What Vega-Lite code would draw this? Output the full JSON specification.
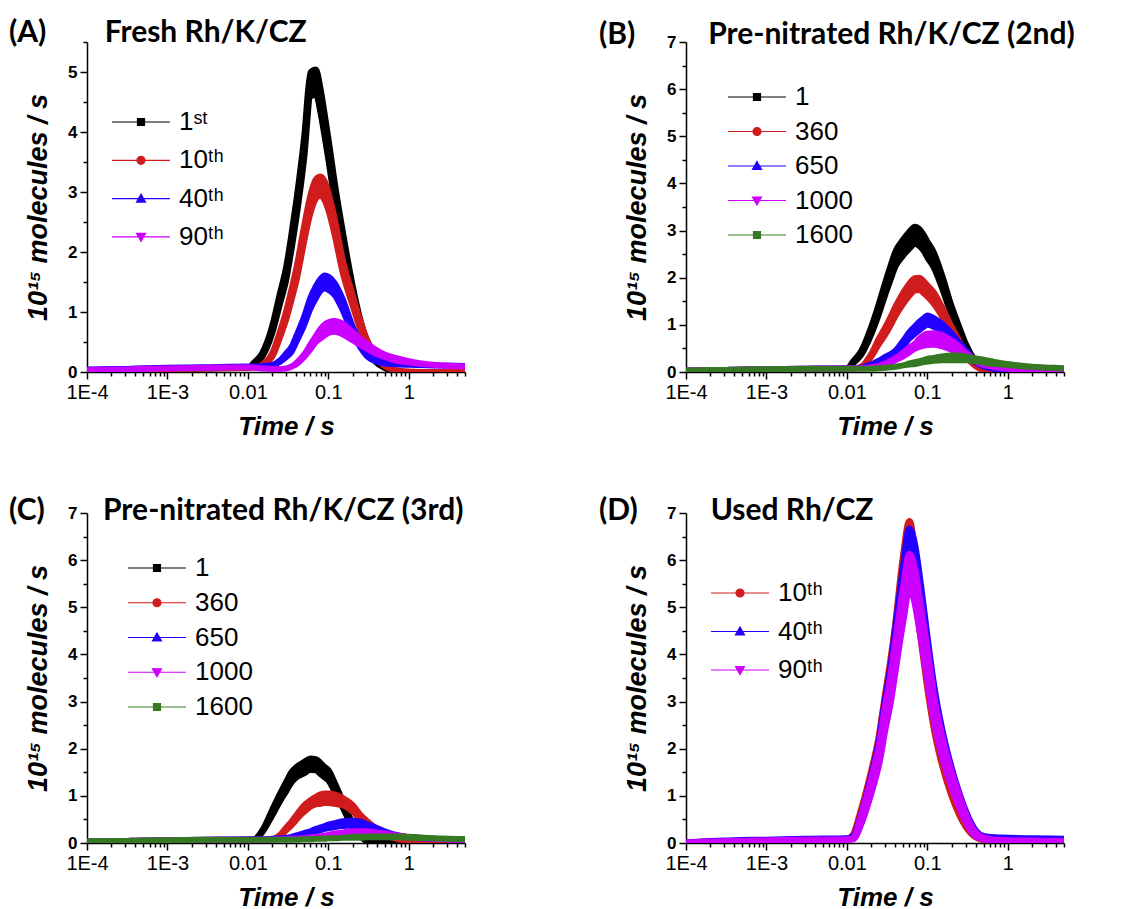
{
"$schema":"https://vega.github.io/schema/vega-lite/v6.json",
"padding":{"left":9,"top":18,"right":0,"bottom":0},
"background":"white",
"columns":2,
"spacing":{"row":141,"column":221},
"bounds":"flush",
"resolve":{"scale":{"fill":"independent","stroke":"independent","shape":"independent"},"legend":{"fill":"independent","stroke":"independent","shape":"independent"}},
"datasets":{
"A":[
{"s":"1st","t":0.0001,"lo":0.03,"hi":0.03},{"s":"1st","t":0.0002,"lo":0.03,"hi":0.03},{"s":"1st","t":0.0003,"lo":0.03,"hi":0.04},{"s":"1st","t":0.0004,"lo":0.04,"hi":0.04},{"s":"1st","t":0.001,"lo":0.05,"hi":0.05},{"s":"1st","t":0.003,"lo":0.06,"hi":0.06},{"s":"1st","t":0.01,"lo":0.07,"hi":0.07},{"s":"1st","t":0.012,"lo":0.14,"hi":0.16},{"s":"1st","t":0.015,"lo":0.25,"hi":0.31},{"s":"1st","t":0.02,"lo":0.64,"hi":0.76},{"s":"1st","t":0.025,"lo":1.13,"hi":1.31},{"s":"1st","t":0.03,"lo":1.54,"hi":1.76},{"s":"1st","t":0.035,"lo":2.06,"hi":2.32},{"s":"1st","t":0.04,"lo":2.56,"hi":2.86},{"s":"1st","t":0.05,"lo":3.55,"hi":3.91},{"s":"1st","t":0.06,"lo":4.59,"hi":4.99},{"s":"1st","t":0.07,"lo":4.62,"hi":5.04},{"s":"1st","t":0.08,"lo":4.32,"hi":4.72},{"s":"1st","t":0.09,"lo":3.92,"hi":4.3},{"s":"1st","t":0.1,"lo":3.54,"hi":3.9},{"s":"1st","t":0.12,"lo":2.84,"hi":3.16},{"s":"1st","t":0.15,"lo":2.11,"hi":2.37},{"s":"1st","t":0.2,"lo":1.25,"hi":1.45},{"s":"1st","t":0.25,"lo":0.73,"hi":0.87},{"s":"1st","t":0.3,"lo":0.42,"hi":0.52},{"s":"1st","t":0.4,"lo":0.15,"hi":0.17},{"s":"1st","t":0.5,"lo":0.07,"hi":0.07},{"s":"1st","t":0.7,"lo":0.01,"hi":0.01},{"s":"1st","t":1,"lo":0,"hi":0},{"s":"1st","t":2,"lo":0,"hi":0},{"s":"1st","t":5,"lo":0,"hi":0},
{"s":"10th","t":0.0001,"lo":0.03,"hi":0.03},{"s":"10th","t":0.0002,"lo":0.03,"hi":0.03},{"s":"10th","t":0.0003,"lo":0.03,"hi":0.04},{"s":"10th","t":0.0004,"lo":0.04,"hi":0.04},{"s":"10th","t":0.001,"lo":0.05,"hi":0.05},{"s":"10th","t":0.003,"lo":0.06,"hi":0.06},{"s":"10th","t":0.01,"lo":0.07,"hi":0.07},{"s":"10th","t":0.012,"lo":0.08,"hi":0.08},{"s":"10th","t":0.015,"lo":0.12,"hi":0.12},{"s":"10th","t":0.02,"lo":0.25,"hi":0.31},{"s":"10th","t":0.025,"lo":0.57,"hi":0.67},{"s":"10th","t":0.03,"lo":0.88,"hi":1.02},{"s":"10th","t":0.035,"lo":1.21,"hi":1.39},{"s":"10th","t":0.04,"lo":1.51,"hi":1.73},{"s":"10th","t":0.05,"lo":2.17,"hi":2.43},{"s":"10th","t":0.06,"lo":2.65,"hi":2.95},{"s":"10th","t":0.07,"lo":2.89,"hi":3.21},{"s":"10th","t":0.08,"lo":2.94,"hi":3.26},{"s":"10th","t":0.09,"lo":2.86,"hi":3.18},{"s":"10th","t":0.1,"lo":2.7,"hi":3.0},{"s":"10th","t":0.12,"lo":2.28,"hi":2.56},{"s":"10th","t":0.15,"lo":1.67,"hi":1.89},{"s":"10th","t":0.2,"lo":1.11,"hi":1.29},{"s":"10th","t":0.25,"lo":0.71,"hi":0.85},{"s":"10th","t":0.3,"lo":0.45,"hi":0.55},{"s":"10th","t":0.4,"lo":0.2,"hi":0.24},{"s":"10th","t":0.5,"lo":0.1,"hi":0.1},{"s":"10th","t":0.7,"lo":0.03,"hi":0.03},{"s":"10th","t":1,"lo":0.01,"hi":0.01},{"s":"10th","t":2,"lo":0,"hi":0},{"s":"10th","t":5,"lo":0,"hi":0},
{"s":"40th","t":0.0001,"lo":0.04,"hi":0.04},{"s":"40th","t":0.0002,"lo":0.05,"hi":0.05},{"s":"40th","t":0.0003,"lo":0.05,"hi":0.05},{"s":"40th","t":0.0004,"lo":0.06,"hi":0.06},{"s":"40th","t":0.001,"lo":0.07,"hi":0.07},{"s":"40th","t":0.003,"lo":0.08,"hi":0.08},{"s":"40th","t":0.01,"lo":0.09,"hi":0.09},{"s":"40th","t":0.012,"lo":0.09,"hi":0.09},{"s":"40th","t":0.015,"lo":0.1,"hi":0.1},{"s":"40th","t":0.02,"lo":0.12,"hi":0.12},{"s":"40th","t":0.025,"lo":0.17,"hi":0.19},{"s":"40th","t":0.03,"lo":0.25,"hi":0.31},{"s":"40th","t":0.035,"lo":0.34,"hi":0.42},{"s":"40th","t":0.04,"lo":0.5,"hi":0.6},{"s":"40th","t":0.05,"lo":0.78,"hi":0.92},{"s":"40th","t":0.06,"lo":1.06,"hi":1.24},{"s":"40th","t":0.07,"lo":1.23,"hi":1.43},{"s":"40th","t":0.08,"lo":1.35,"hi":1.55},{"s":"40th","t":0.09,"lo":1.39,"hi":1.61},{"s":"40th","t":0.1,"lo":1.37,"hi":1.59},{"s":"40th","t":0.12,"lo":1.28,"hi":1.48},{"s":"40th","t":0.15,"lo":1.04,"hi":1.22},{"s":"40th","t":0.2,"lo":0.64,"hi":0.76},{"s":"40th","t":0.25,"lo":0.41,"hi":0.49},{"s":"40th","t":0.3,"lo":0.27,"hi":0.33},{"s":"40th","t":0.4,"lo":0.17,"hi":0.21},{"s":"40th","t":0.5,"lo":0.14,"hi":0.16},{"s":"40th","t":0.7,"lo":0.13,"hi":0.13},{"s":"40th","t":1,"lo":0.12,"hi":0.12},{"s":"40th","t":2,"lo":0.11,"hi":0.11},{"s":"40th","t":5,"lo":0.1,"hi":0.1},
{"s":"90th","t":0.0001,"lo":0.03,"hi":0.03},{"s":"90th","t":0.0002,"lo":0.04,"hi":0.04},{"s":"90th","t":0.0003,"lo":0.04,"hi":0.04},{"s":"90th","t":0.0004,"lo":0.05,"hi":0.05},{"s":"90th","t":0.001,"lo":0.06,"hi":0.06},{"s":"90th","t":0.003,"lo":0.07,"hi":0.07},{"s":"90th","t":0.01,"lo":0.08,"hi":0.08},{"s":"90th","t":0.012,"lo":0.07,"hi":0.07},{"s":"90th","t":0.015,"lo":0.06,"hi":0.06},{"s":"90th","t":0.02,"lo":0.05,"hi":0.05},{"s":"90th","t":0.025,"lo":0.05,"hi":0.05},{"s":"90th","t":0.03,"lo":0.06,"hi":0.06},{"s":"90th","t":0.035,"lo":0.09,"hi":0.09},{"s":"90th","t":0.04,"lo":0.13,"hi":0.15},{"s":"90th","t":0.05,"lo":0.25,"hi":0.29},{"s":"90th","t":0.06,"lo":0.38,"hi":0.46},{"s":"90th","t":0.07,"lo":0.5,"hi":0.6},{"s":"90th","t":0.08,"lo":0.56,"hi":0.72},{"s":"90th","t":0.09,"lo":0.61,"hi":0.79},{"s":"90th","t":0.1,"lo":0.65,"hi":0.83},{"s":"90th","t":0.12,"lo":0.67,"hi":0.85},{"s":"90th","t":0.15,"lo":0.63,"hi":0.81},{"s":"90th","t":0.2,"lo":0.53,"hi":0.67},{"s":"90th","t":0.25,"lo":0.45,"hi":0.55},{"s":"90th","t":0.3,"lo":0.39,"hi":0.47},{"s":"90th","t":0.4,"lo":0.3,"hi":0.36},{"s":"90th","t":0.5,"lo":0.25,"hi":0.29},{"s":"90th","t":0.7,"lo":0.19,"hi":0.23},{"s":"90th","t":1,"lo":0.16,"hi":0.18},{"s":"90th","t":2,"lo":0.12,"hi":0.12},{"s":"90th","t":5,"lo":0.09,"hi":0.09}
],
"B":[
{"s":"1","t":0.0001,"lo":0.02,"hi":0.02},{"s":"1","t":0.0002,"lo":0.03,"hi":0.03},{"s":"1","t":0.0003,"lo":0.03,"hi":0.03},{"s":"1","t":0.0004,"lo":0.04,"hi":0.04},{"s":"1","t":0.001,"lo":0.05,"hi":0.05},{"s":"1","t":0.003,"lo":0.06,"hi":0.06},{"s":"1","t":0.01,"lo":0.07,"hi":0.07},{"s":"1","t":0.012,"lo":0.19,"hi":0.23},{"s":"1","t":0.015,"lo":0.36,"hi":0.44},{"s":"1","t":0.02,"lo":0.79,"hi":0.95},{"s":"1","t":0.025,"lo":1.23,"hi":1.45},{"s":"1","t":0.03,"lo":1.64,"hi":1.9},{"s":"1","t":0.035,"lo":1.96,"hi":2.26},{"s":"1","t":0.04,"lo":2.23,"hi":2.55},{"s":"1","t":0.05,"lo":2.47,"hi":2.81},{"s":"1","t":0.06,"lo":2.62,"hi":2.98},{"s":"1","t":0.07,"lo":2.72,"hi":3.08},{"s":"1","t":0.08,"lo":2.67,"hi":3.03},{"s":"1","t":0.09,"lo":2.57,"hi":2.91},{"s":"1","t":0.1,"lo":2.43,"hi":2.77},{"s":"1","t":0.12,"lo":2.22,"hi":2.54},{"s":"1","t":0.15,"lo":1.81,"hi":2.09},{"s":"1","t":0.2,"lo":1.2,"hi":1.4},{"s":"1","t":0.25,"lo":0.79,"hi":0.95},{"s":"1","t":0.3,"lo":0.5,"hi":0.6},{"s":"1","t":0.4,"lo":0.18,"hi":0.22},{"s":"1","t":0.5,"lo":0.03,"hi":0.03},{"s":"1","t":0.7,"lo":0,"hi":0},{"s":"1","t":1,"lo":0,"hi":0},{"s":"1","t":2,"lo":0,"hi":0},{"s":"1","t":5,"lo":0,"hi":0},
{"s":"360","t":0.0001,"lo":0.02,"hi":0.02},{"s":"360","t":0.0002,"lo":0.03,"hi":0.03},{"s":"360","t":0.0003,"lo":0.03,"hi":0.03},{"s":"360","t":0.0004,"lo":0.04,"hi":0.04},{"s":"360","t":0.001,"lo":0.05,"hi":0.05},{"s":"360","t":0.003,"lo":0.06,"hi":0.06},{"s":"360","t":0.01,"lo":0.07,"hi":0.07},{"s":"360","t":0.012,"lo":0.07,"hi":0.07},{"s":"360","t":0.015,"lo":0.11,"hi":0.11},{"s":"360","t":0.02,"lo":0.32,"hi":0.38},{"s":"360","t":0.025,"lo":0.59,"hi":0.71},{"s":"360","t":0.03,"lo":0.79,"hi":0.95},{"s":"360","t":0.035,"lo":0.99,"hi":1.17},{"s":"360","t":0.04,"lo":1.18,"hi":1.38},{"s":"360","t":0.05,"lo":1.44,"hi":1.68},{"s":"360","t":0.06,"lo":1.62,"hi":1.88},{"s":"360","t":0.07,"lo":1.73,"hi":1.99},{"s":"360","t":0.08,"lo":1.74,"hi":2.0},{"s":"360","t":0.09,"lo":1.67,"hi":1.93},{"s":"360","t":0.1,"lo":1.6,"hi":1.84},{"s":"360","t":0.12,"lo":1.45,"hi":1.69},{"s":"360","t":0.15,"lo":1.2,"hi":1.4},{"s":"360","t":0.2,"lo":0.8,"hi":0.96},{"s":"360","t":0.25,"lo":0.54,"hi":0.66},{"s":"360","t":0.3,"lo":0.34,"hi":0.42},{"s":"360","t":0.4,"lo":0.12,"hi":0.14},{"s":"360","t":0.5,"lo":0.04,"hi":0.04},{"s":"360","t":0.7,"lo":0.01,"hi":0.01},{"s":"360","t":1,"lo":0,"hi":0},{"s":"360","t":2,"lo":0,"hi":0},{"s":"360","t":5,"lo":0,"hi":0},
{"s":"650","t":0.0001,"lo":0.03,"hi":0.03},{"s":"650","t":0.0002,"lo":0.04,"hi":0.04},{"s":"650","t":0.0003,"lo":0.04,"hi":0.04},{"s":"650","t":0.0004,"lo":0.05,"hi":0.05},{"s":"650","t":0.001,"lo":0.06,"hi":0.06},{"s":"650","t":0.003,"lo":0.07,"hi":0.07},{"s":"650","t":0.01,"lo":0.08,"hi":0.08},{"s":"650","t":0.012,"lo":0.08,"hi":0.08},{"s":"650","t":0.015,"lo":0.09,"hi":0.09},{"s":"650","t":0.02,"lo":0.14,"hi":0.16},{"s":"650","t":0.025,"lo":0.2,"hi":0.24},{"s":"650","t":0.03,"lo":0.26,"hi":0.32},{"s":"650","t":0.035,"lo":0.32,"hi":0.38},{"s":"650","t":0.04,"lo":0.37,"hi":0.45},{"s":"650","t":0.05,"lo":0.54,"hi":0.66},{"s":"650","t":0.06,"lo":0.71,"hi":0.85},{"s":"650","t":0.07,"lo":0.81,"hi":0.97},{"s":"650","t":0.08,"lo":0.89,"hi":1.07},{"s":"650","t":0.09,"lo":0.96,"hi":1.14},{"s":"650","t":0.1,"lo":1.0,"hi":1.2},{"s":"650","t":0.12,"lo":0.96,"hi":1.14},{"s":"650","t":0.15,"lo":0.87,"hi":1.03},{"s":"650","t":0.2,"lo":0.68,"hi":0.82},{"s":"650","t":0.25,"lo":0.52,"hi":0.62},{"s":"650","t":0.3,"lo":0.39,"hi":0.47},{"s":"650","t":0.4,"lo":0.2,"hi":0.24},{"s":"650","t":0.5,"lo":0.12,"hi":0.14},{"s":"650","t":0.7,"lo":0.07,"hi":0.07},{"s":"650","t":1,"lo":0.05,"hi":0.05},{"s":"650","t":2,"lo":0.04,"hi":0.04},{"s":"650","t":5,"lo":0.03,"hi":0.03},
{"s":"1000","t":0.0001,"lo":0.03,"hi":0.03},{"s":"1000","t":0.0002,"lo":0.04,"hi":0.04},{"s":"1000","t":0.0003,"lo":0.04,"hi":0.04},{"s":"1000","t":0.0004,"lo":0.05,"hi":0.05},{"s":"1000","t":0.001,"lo":0.06,"hi":0.06},{"s":"1000","t":0.003,"lo":0.07,"hi":0.07},{"s":"1000","t":0.01,"lo":0.08,"hi":0.08},{"s":"1000","t":0.012,"lo":0.08,"hi":0.08},{"s":"1000","t":0.015,"lo":0.08,"hi":0.08},{"s":"1000","t":0.02,"lo":0.1,"hi":0.1},{"s":"1000","t":0.025,"lo":0.13,"hi":0.13},{"s":"1000","t":0.03,"lo":0.16,"hi":0.18},{"s":"1000","t":0.035,"lo":0.2,"hi":0.24},{"s":"1000","t":0.04,"lo":0.25,"hi":0.29},{"s":"1000","t":0.05,"lo":0.33,"hi":0.41},{"s":"1000","t":0.06,"lo":0.42,"hi":0.52},{"s":"1000","t":0.07,"lo":0.5,"hi":0.6},{"s":"1000","t":0.08,"lo":0.53,"hi":0.71},{"s":"1000","t":0.09,"lo":0.56,"hi":0.78},{"s":"1000","t":0.1,"lo":0.57,"hi":0.81},{"s":"1000","t":0.12,"lo":0.58,"hi":0.82},{"s":"1000","t":0.15,"lo":0.55,"hi":0.79},{"s":"1000","t":0.2,"lo":0.47,"hi":0.67},{"s":"1000","t":0.25,"lo":0.38,"hi":0.54},{"s":"1000","t":0.3,"lo":0.33,"hi":0.41},{"s":"1000","t":0.4,"lo":0.22,"hi":0.26},{"s":"1000","t":0.5,"lo":0.15,"hi":0.17},{"s":"1000","t":0.7,"lo":0.1,"hi":0.1},{"s":"1000","t":1,"lo":0.07,"hi":0.07},{"s":"1000","t":2,"lo":0.05,"hi":0.05},{"s":"1000","t":5,"lo":0.04,"hi":0.04},
{"s":"1600","t":0.0001,"lo":0.03,"hi":0.03},{"s":"1600","t":0.0002,"lo":0.04,"hi":0.04},{"s":"1600","t":0.0003,"lo":0.04,"hi":0.04},{"s":"1600","t":0.0004,"lo":0.05,"hi":0.05},{"s":"1600","t":0.001,"lo":0.06,"hi":0.06},{"s":"1600","t":0.003,"lo":0.07,"hi":0.07},{"s":"1600","t":0.01,"lo":0.07,"hi":0.07},{"s":"1600","t":0.012,"lo":0.07,"hi":0.07},{"s":"1600","t":0.015,"lo":0.07,"hi":0.07},{"s":"1600","t":0.02,"lo":0.07,"hi":0.07},{"s":"1600","t":0.025,"lo":0.08,"hi":0.08},{"s":"1600","t":0.03,"lo":0.09,"hi":0.09},{"s":"1600","t":0.035,"lo":0.1,"hi":0.1},{"s":"1600","t":0.04,"lo":0.11,"hi":0.11},{"s":"1600","t":0.05,"lo":0.14,"hi":0.14},{"s":"1600","t":0.06,"lo":0.16,"hi":0.18},{"s":"1600","t":0.07,"lo":0.17,"hi":0.21},{"s":"1600","t":0.08,"lo":0.19,"hi":0.23},{"s":"1600","t":0.09,"lo":0.21,"hi":0.25},{"s":"1600","t":0.1,"lo":0.22,"hi":0.28},{"s":"1600","t":0.12,"lo":0.24,"hi":0.3},{"s":"1600","t":0.15,"lo":0.25,"hi":0.33},{"s":"1600","t":0.2,"lo":0.25,"hi":0.35},{"s":"1600","t":0.25,"lo":0.25,"hi":0.35},{"s":"1600","t":0.3,"lo":0.25,"hi":0.33},{"s":"1600","t":0.4,"lo":0.23,"hi":0.29},{"s":"1600","t":0.5,"lo":0.2,"hi":0.26},{"s":"1600","t":0.7,"lo":0.17,"hi":0.21},{"s":"1600","t":1,"lo":0.15,"hi":0.17},{"s":"1600","t":2,"lo":0.11,"hi":0.11},{"s":"1600","t":5,"lo":0.08,"hi":0.08}
],
"C":[
{"s":"1","t":0.0001,"lo":0.02,"hi":0.02},{"s":"1","t":0.0002,"lo":0.03,"hi":0.03},{"s":"1","t":0.0003,"lo":0.03,"hi":0.03},{"s":"1","t":0.0004,"lo":0.04,"hi":0.04},{"s":"1","t":0.001,"lo":0.05,"hi":0.05},{"s":"1","t":0.003,"lo":0.06,"hi":0.06},{"s":"1","t":0.01,"lo":0.07,"hi":0.07},{"s":"1","t":0.012,"lo":0.08,"hi":0.08},{"s":"1","t":0.015,"lo":0.22,"hi":0.26},{"s":"1","t":0.02,"lo":0.58,"hi":0.7},{"s":"1","t":0.025,"lo":0.88,"hi":1.04},{"s":"1","t":0.03,"lo":1.1,"hi":1.3},{"s":"1","t":0.035,"lo":1.29,"hi":1.51},{"s":"1","t":0.04,"lo":1.39,"hi":1.61},{"s":"1","t":0.05,"lo":1.48,"hi":1.72},{"s":"1","t":0.06,"lo":1.55,"hi":1.79},{"s":"1","t":0.07,"lo":1.54,"hi":1.78},{"s":"1","t":0.08,"lo":1.46,"hi":1.7},{"s":"1","t":0.09,"lo":1.39,"hi":1.61},{"s":"1","t":0.1,"lo":1.33,"hi":1.55},{"s":"1","t":0.12,"lo":1.08,"hi":1.28},{"s":"1","t":0.15,"lo":0.76,"hi":0.9},{"s":"1","t":0.2,"lo":0.34,"hi":0.42},{"s":"1","t":0.25,"lo":0.14,"hi":0.16},{"s":"1","t":0.3,"lo":0.04,"hi":0.04},{"s":"1","t":0.4,"lo":0.01,"hi":0.01},{"s":"1","t":0.5,"lo":0,"hi":0},{"s":"1","t":0.7,"lo":0,"hi":0},{"s":"1","t":1,"lo":0,"hi":0},{"s":"1","t":2,"lo":0,"hi":0},{"s":"1","t":5,"lo":0,"hi":0},
{"s":"360","t":0.0001,"lo":0.02,"hi":0.02},{"s":"360","t":0.0002,"lo":0.03,"hi":0.03},{"s":"360","t":0.0003,"lo":0.03,"hi":0.03},{"s":"360","t":0.0004,"lo":0.04,"hi":0.04},{"s":"360","t":0.001,"lo":0.05,"hi":0.05},{"s":"360","t":0.003,"lo":0.06,"hi":0.06},{"s":"360","t":0.01,"lo":0.07,"hi":0.07},{"s":"360","t":0.012,"lo":0.07,"hi":0.07},{"s":"360","t":0.015,"lo":0.07,"hi":0.07},{"s":"360","t":0.02,"lo":0.08,"hi":0.08},{"s":"360","t":0.025,"lo":0.15,"hi":0.17},{"s":"360","t":0.03,"lo":0.27,"hi":0.33},{"s":"360","t":0.035,"lo":0.38,"hi":0.46},{"s":"360","t":0.04,"lo":0.49,"hi":0.59},{"s":"360","t":0.05,"lo":0.66,"hi":0.8},{"s":"360","t":0.06,"lo":0.77,"hi":0.91},{"s":"360","t":0.07,"lo":0.82,"hi":0.98},{"s":"360","t":0.08,"lo":0.83,"hi":1.03},{"s":"360","t":0.09,"lo":0.85,"hi":1.05},{"s":"360","t":0.1,"lo":0.85,"hi":1.05},{"s":"360","t":0.12,"lo":0.83,"hi":1.03},{"s":"360","t":0.15,"lo":0.8,"hi":0.96},{"s":"360","t":0.2,"lo":0.67,"hi":0.81},{"s":"360","t":0.25,"lo":0.5,"hi":0.6},{"s":"360","t":0.3,"lo":0.39,"hi":0.47},{"s":"360","t":0.4,"lo":0.24,"hi":0.3},{"s":"360","t":0.5,"lo":0.16,"hi":0.18},{"s":"360","t":0.7,"lo":0.09,"hi":0.09},{"s":"360","t":1,"lo":0.05,"hi":0.05},{"s":"360","t":2,"lo":0.03,"hi":0.03},{"s":"360","t":5,"lo":0.02,"hi":0.02},
{"s":"650","t":0.0001,"lo":0.03,"hi":0.03},{"s":"650","t":0.0002,"lo":0.04,"hi":0.04},{"s":"650","t":0.0003,"lo":0.04,"hi":0.04},{"s":"650","t":0.0004,"lo":0.05,"hi":0.05},{"s":"650","t":0.001,"lo":0.06,"hi":0.06},{"s":"650","t":0.003,"lo":0.07,"hi":0.07},{"s":"650","t":0.01,"lo":0.08,"hi":0.08},{"s":"650","t":0.012,"lo":0.08,"hi":0.08},{"s":"650","t":0.015,"lo":0.08,"hi":0.08},{"s":"650","t":0.02,"lo":0.09,"hi":0.09},{"s":"650","t":0.025,"lo":0.1,"hi":0.1},{"s":"650","t":0.03,"lo":0.11,"hi":0.11},{"s":"650","t":0.035,"lo":0.13,"hi":0.13},{"s":"650","t":0.04,"lo":0.14,"hi":0.16},{"s":"650","t":0.05,"lo":0.17,"hi":0.21},{"s":"650","t":0.06,"lo":0.21,"hi":0.25},{"s":"650","t":0.07,"lo":0.24,"hi":0.3},{"s":"650","t":0.08,"lo":0.27,"hi":0.33},{"s":"650","t":0.09,"lo":0.3,"hi":0.36},{"s":"650","t":0.1,"lo":0.31,"hi":0.39},{"s":"650","t":0.12,"lo":0.34,"hi":0.42},{"s":"650","t":0.15,"lo":0.36,"hi":0.46},{"s":"650","t":0.2,"lo":0.37,"hi":0.47},{"s":"650","t":0.25,"lo":0.35,"hi":0.45},{"s":"650","t":0.3,"lo":0.32,"hi":0.4},{"s":"650","t":0.4,"lo":0.26,"hi":0.32},{"s":"650","t":0.5,"lo":0.21,"hi":0.25},{"s":"650","t":0.7,"lo":0.15,"hi":0.17},{"s":"650","t":1,"lo":0.12,"hi":0.12},{"s":"650","t":2,"lo":0.09,"hi":0.09},{"s":"650","t":5,"lo":0.07,"hi":0.07},
{"s":"1000","t":0.0001,"lo":0.03,"hi":0.03},{"s":"1000","t":0.0002,"lo":0.04,"hi":0.04},{"s":"1000","t":0.0003,"lo":0.04,"hi":0.04},{"s":"1000","t":0.0004,"lo":0.05,"hi":0.05},{"s":"1000","t":0.001,"lo":0.06,"hi":0.06},{"s":"1000","t":0.003,"lo":0.07,"hi":0.07},{"s":"1000","t":0.01,"lo":0.07,"hi":0.07},{"s":"1000","t":0.012,"lo":0.07,"hi":0.07},{"s":"1000","t":0.015,"lo":0.07,"hi":0.07},{"s":"1000","t":0.02,"lo":0.07,"hi":0.07},{"s":"1000","t":0.025,"lo":0.08,"hi":0.08},{"s":"1000","t":0.03,"lo":0.08,"hi":0.08},{"s":"1000","t":0.035,"lo":0.09,"hi":0.09},{"s":"1000","t":0.04,"lo":0.09,"hi":0.09},{"s":"1000","t":0.05,"lo":0.1,"hi":0.1},{"s":"1000","t":0.06,"lo":0.12,"hi":0.12},{"s":"1000","t":0.07,"lo":0.13,"hi":0.13},{"s":"1000","t":0.08,"lo":0.14,"hi":0.14},{"s":"1000","t":0.09,"lo":0.14,"hi":0.16},{"s":"1000","t":0.1,"lo":0.15,"hi":0.17},{"s":"1000","t":0.12,"lo":0.16,"hi":0.2},{"s":"1000","t":0.15,"lo":0.18,"hi":0.22},{"s":"1000","t":0.2,"lo":0.19,"hi":0.25},{"s":"1000","t":0.25,"lo":0.19,"hi":0.25},{"s":"1000","t":0.3,"lo":0.19,"hi":0.25},{"s":"1000","t":0.4,"lo":0.18,"hi":0.22},{"s":"1000","t":0.5,"lo":0.16,"hi":0.2},{"s":"1000","t":0.7,"lo":0.14,"hi":0.16},{"s":"1000","t":1,"lo":0.12,"hi":0.12},{"s":"1000","t":2,"lo":0.09,"hi":0.09},{"s":"1000","t":5,"lo":0.07,"hi":0.07},
{"s":"1600","t":0.0001,"lo":0.03,"hi":0.03},{"s":"1600","t":0.0002,"lo":0.04,"hi":0.04},{"s":"1600","t":0.0003,"lo":0.04,"hi":0.04},{"s":"1600","t":0.0004,"lo":0.05,"hi":0.05},{"s":"1600","t":0.001,"lo":0.06,"hi":0.06},{"s":"1600","t":0.003,"lo":0.07,"hi":0.07},{"s":"1600","t":0.01,"lo":0.07,"hi":0.07},{"s":"1600","t":0.012,"lo":0.07,"hi":0.07},{"s":"1600","t":0.015,"lo":0.07,"hi":0.07},{"s":"1600","t":0.02,"lo":0.07,"hi":0.07},{"s":"1600","t":0.025,"lo":0.07,"hi":0.07},{"s":"1600","t":0.03,"lo":0.07,"hi":0.07},{"s":"1600","t":0.035,"lo":0.07,"hi":0.07},{"s":"1600","t":0.04,"lo":0.07,"hi":0.07},{"s":"1600","t":0.05,"lo":0.08,"hi":0.08},{"s":"1600","t":0.06,"lo":0.08,"hi":0.08},{"s":"1600","t":0.07,"lo":0.09,"hi":0.09},{"s":"1600","t":0.08,"lo":0.09,"hi":0.09},{"s":"1600","t":0.09,"lo":0.09,"hi":0.09},{"s":"1600","t":0.1,"lo":0.1,"hi":0.1},{"s":"1600","t":0.12,"lo":0.1,"hi":0.1},{"s":"1600","t":0.15,"lo":0.11,"hi":0.11},{"s":"1600","t":0.2,"lo":0.11,"hi":0.13},{"s":"1600","t":0.25,"lo":0.11,"hi":0.13},{"s":"1600","t":0.3,"lo":0.12,"hi":0.14},{"s":"1600","t":0.4,"lo":0.12,"hi":0.14},{"s":"1600","t":0.5,"lo":0.12,"hi":0.14},{"s":"1600","t":0.7,"lo":0.12,"hi":0.14},{"s":"1600","t":1,"lo":0.11,"hi":0.13},{"s":"1600","t":2,"lo":0.1,"hi":0.1},{"s":"1600","t":5,"lo":0.08,"hi":0.08}
],
"D":[
{"s":"10th","t":0.0001,"lo":0,"hi":0},{"s":"10th","t":0.0002,"lo":0.02,"hi":0.02},{"s":"10th","t":0.0003,"lo":0.03,"hi":0.03},{"s":"10th","t":0.0004,"lo":0.03,"hi":0.03},{"s":"10th","t":0.001,"lo":0.05,"hi":0.05},{"s":"10th","t":0.003,"lo":0.06,"hi":0.06},{"s":"10th","t":0.01,"lo":0.07,"hi":0.07},{"s":"10th","t":0.012,"lo":0.13,"hi":0.17},{"s":"10th","t":0.015,"lo":0.52,"hi":0.68},{"s":"10th","t":0.02,"lo":1.21,"hi":1.49},{"s":"10th","t":0.025,"lo":1.87,"hi":2.23},{"s":"10th","t":0.03,"lo":2.67,"hi":3.13},{"s":"10th","t":0.035,"lo":3.34,"hi":3.86},{"s":"10th","t":0.04,"lo":4.01,"hi":4.59},{"s":"10th","t":0.05,"lo":5.36,"hi":6.04},{"s":"10th","t":0.06,"lo":6.08,"hi":6.82},{"s":"10th","t":0.07,"lo":5.41,"hi":6.09},{"s":"10th","t":0.08,"lo":4.58,"hi":5.22},{"s":"10th","t":0.09,"lo":3.91,"hi":4.49},{"s":"10th","t":0.1,"lo":3.34,"hi":3.86},{"s":"10th","t":0.12,"lo":2.48,"hi":2.92},{"s":"10th","t":0.15,"lo":1.73,"hi":2.07},{"s":"10th","t":0.2,"lo":1.02,"hi":1.28},{"s":"10th","t":0.25,"lo":0.61,"hi":0.79},{"s":"10th","t":0.3,"lo":0.36,"hi":0.48},{"s":"10th","t":0.4,"lo":0.13,"hi":0.17},{"s":"10th","t":0.5,"lo":0.07,"hi":0.07},{"s":"10th","t":0.7,"lo":0.04,"hi":0.04},{"s":"10th","t":1,"lo":0.03,"hi":0.03},{"s":"10th","t":2,"lo":0.02,"hi":0.02},{"s":"10th","t":5,"lo":0.02,"hi":0.02},
{"s":"40th","t":0.0001,"lo":0,"hi":0},{"s":"40th","t":0.0002,"lo":0.03,"hi":0.03},{"s":"40th","t":0.0003,"lo":0.04,"hi":0.04},{"s":"40th","t":0.0004,"lo":0.05,"hi":0.05},{"s":"40th","t":0.001,"lo":0.06,"hi":0.06},{"s":"40th","t":0.003,"lo":0.08,"hi":0.08},{"s":"40th","t":0.01,"lo":0.09,"hi":0.09},{"s":"40th","t":0.012,"lo":0.11,"hi":0.13},{"s":"40th","t":0.015,"lo":0.43,"hi":0.57},{"s":"40th","t":0.02,"lo":1.12,"hi":1.38},{"s":"40th","t":0.025,"lo":1.77,"hi":2.13},{"s":"40th","t":0.03,"lo":2.58,"hi":3.02},{"s":"40th","t":0.035,"lo":3.2,"hi":3.7},{"s":"40th","t":0.04,"lo":3.91,"hi":4.49},{"s":"40th","t":0.05,"lo":5.12,"hi":5.78},{"s":"40th","t":0.06,"lo":5.94,"hi":6.66},{"s":"40th","t":0.07,"lo":5.6,"hi":6.3},{"s":"40th","t":0.08,"lo":4.97,"hi":5.63},{"s":"40th","t":0.09,"lo":4.35,"hi":4.95},{"s":"40th","t":0.1,"lo":3.77,"hi":4.33},{"s":"40th","t":0.12,"lo":2.86,"hi":3.34},{"s":"40th","t":0.15,"lo":2.06,"hi":2.44},{"s":"40th","t":0.2,"lo":1.27,"hi":1.57},{"s":"40th","t":0.25,"lo":0.81,"hi":1.03},{"s":"40th","t":0.3,"lo":0.5,"hi":0.66},{"s":"40th","t":0.4,"lo":0.19,"hi":0.25},{"s":"40th","t":0.5,"lo":0.12,"hi":0.14},{"s":"40th","t":0.7,"lo":0.11,"hi":0.11},{"s":"40th","t":1,"lo":0.1,"hi":0.1},{"s":"40th","t":2,"lo":0.09,"hi":0.09},{"s":"40th","t":5,"lo":0.08,"hi":0.08},
{"s":"90th","t":0.0001,"lo":0,"hi":0},{"s":"90th","t":0.0002,"lo":0.02,"hi":0.02},{"s":"90th","t":0.0003,"lo":0.03,"hi":0.03},{"s":"90th","t":0.0004,"lo":0.03,"hi":0.03},{"s":"90th","t":0.001,"lo":0.05,"hi":0.05},{"s":"90th","t":0.003,"lo":0.06,"hi":0.06},{"s":"90th","t":0.01,"lo":0.07,"hi":0.07},{"s":"90th","t":0.012,"lo":0.09,"hi":0.09},{"s":"90th","t":0.015,"lo":0.42,"hi":0.56},{"s":"90th","t":0.02,"lo":1.07,"hi":1.33},{"s":"90th","t":0.025,"lo":1.69,"hi":2.03},{"s":"90th","t":0.03,"lo":2.44,"hi":2.88},{"s":"90th","t":0.035,"lo":3.02,"hi":3.52},{"s":"90th","t":0.04,"lo":3.67,"hi":4.23},{"s":"90th","t":0.05,"lo":4.73,"hi":5.37},{"s":"90th","t":0.06,"lo":5.42,"hi":6.12},{"s":"90th","t":0.07,"lo":5.11,"hi":5.79},{"s":"90th","t":0.08,"lo":4.54,"hi":5.16},{"s":"90th","t":0.09,"lo":4.01,"hi":4.59},{"s":"90th","t":0.1,"lo":3.53,"hi":4.07},{"s":"90th","t":0.12,"lo":2.65,"hi":3.11},{"s":"90th","t":0.15,"lo":1.91,"hi":2.29},{"s":"90th","t":0.2,"lo":1.21,"hi":1.49},{"s":"90th","t":0.25,"lo":0.77,"hi":0.99},{"s":"90th","t":0.3,"lo":0.47,"hi":0.61},{"s":"90th","t":0.4,"lo":0.15,"hi":0.21},{"s":"90th","t":0.5,"lo":0.09,"hi":0.11},{"s":"90th","t":0.7,"lo":0.06,"hi":0.06},{"s":"90th","t":1,"lo":0.05,"hi":0.05},{"s":"90th","t":2,"lo":0.04,"hi":0.04},{"s":"90th","t":5,"lo":0.03,"hi":0.03}
]
},
"concat":[
{
"width":378,"height":330,
"title":{"text":"(A)\u00a0\u00a0\u00a0\u00a0\u00a0\u00a0\u00a0\u00a0Fresh Rh/K/CZ","anchor":"start","frame":"group","dx":-78,"offset":-31,"baseline":"alphabetic","font":"Lato","fontSize":30,"fontWeight":"bold","color":"#000"},
"data":{"name":"A"},
"resolve":{"axis":{"x":"independent","y":"independent"}},
"layer":[
{"mark":{"type":"area","strokeJoin":"round","interpolate":"monotone","opacity":1,"clip":true},
"encoding":{
"x":{"field":"t","type":"quantitative","scale":{"type":"log","domain":[0.0001,5],"nice":false},"axis":{"orient":"bottom","values":[0.0001,0.001,0.01,0.1,1],"labelExpr":"datum.value < 0.0005 ? '1E-4' : datum.value < 0.005 ? '1E-3' : datum.value < 0.05 ? '0.01' : datum.value < 0.5 ? '0.1' : '1'","title":"Time / s"}},
"y":{"field":"lo","type":"quantitative","stack":null,"scale":{"domain":[0,5.5],"nice":false,"zero":false},"axis":{"orient":"left","values":[0,1,2,3,4,5],"format":"d","title":"10¹⁵ molecules / s"}},
"y2":{"field":"hi"},
"strokeWidth":{"value":6},
"fill":{"field":"s","type":"nominal","scale":{"domain":["1st","10th","40th","90th"],"range":["#000000","#d01c1c","#2200ff","#cc00ff"]},"legend":{"orient":"none","legendX":41,"legendY":67,"rowPadding":12.3,"title":null,"symbolStrokeWidth":1.2,"labelExpr":"replace(replace(datum.label,'st','ˢᵗ'),'th','ᵗʰ')"}},
"stroke":{"field":"s","type":"nominal","scale":{"domain":["1st","10th","40th","90th"],"range":["#000000","#d01c1c","#2200ff","#cc00ff"]},"legend":{"orient":"none","legendX":41,"legendY":67,"rowPadding":12.3,"title":null,"symbolStrokeWidth":1.2,"labelExpr":"replace(replace(datum.label,'st','ˢᵗ'),'th','ᵗʰ')"}}
}},
{"transform":[{"filter":"datum.t == 0.0001"}],
"mark":{"type":"point","opacity":0,"size":400},
"encoding":{
"x":{"field":"t","type":"quantitative","axis":{"orient":"bottom","values":[0.0002,0.0003,0.0004,0.0005,0.0006,0.0007,0.0008,0.0009,0.002,0.003,0.004,0.005,0.006,0.007,0.008,0.009,0.02,0.03,0.04,0.05,0.06,0.07,0.08,0.09,0.2,0.3,0.4,0.5,0.6,0.7,0.8,0.9,2,3,4,5],"labels":false,"domain":false,"tickSize":4,"title":null}},
"y":{"field":"lo","type":"quantitative","axis":{"orient":"left","values":[0.5,1.5,2.5,3.5,4.5,5.5],"labels":false,"domain":false,"tickSize":4,"title":null}},
"shape":{"field":"s","type":"nominal","scale":{"domain":["1st","10th","40th","90th"],"range":["M-2.9,0H2.9M-0.35,-0.35H0.35V0.35H-0.35Z","M-2.9,0H2.9M-0.4,0A0.4,0.4,0,1,0,0.4,0A0.4,0.4,0,1,0,-0.4,0Z","M-2.9,0H2.9M0,-0.45L0.45,0.35H-0.45Z","M-2.9,0H2.9M0,0.45L0.45,-0.35H-0.45Z"]},"legend":{"orient":"none","legendX":41,"legendY":67,"rowPadding":12.3,"title":null,"symbolStrokeWidth":1.2,"labelExpr":"replace(replace(datum.label,'st','ˢᵗ'),'th','ᵗʰ')"}}
}}
]
},
{
"width":378,"height":330,
"title":{"text":"(B)\u00a0\u00a0\u00a0\u00a0\u00a0\u00a0\u00a0\u00a0\u00a0\u00a0Pre-nitrated Rh/K/CZ (2nd)","anchor":"start","frame":"group","dx":-87,"offset":-41,"baseline":"alphabetic","font":"Lato","fontSize":30,"fontWeight":"bold","color":"#000"},
"data":{"name":"B"},
"resolve":{"axis":{"x":"independent","y":"independent"}},
"layer":[
{"mark":{"type":"area","strokeJoin":"round","interpolate":"monotone","opacity":1,"clip":true},
"encoding":{
"x":{"field":"t","type":"quantitative","scale":{"type":"log","domain":[0.0001,5],"nice":false},"axis":{"orient":"bottom","values":[0.0001,0.001,0.01,0.1,1],"labelExpr":"datum.value < 0.0005 ? '1E-4' : datum.value < 0.005 ? '1E-3' : datum.value < 0.05 ? '0.01' : datum.value < 0.5 ? '0.1' : '1'","title":"Time / s"}},
"y":{"field":"lo","type":"quantitative","stack":null,"scale":{"domain":[0,7],"nice":false,"zero":false},"axis":{"orient":"left","values":[0,1,2,3,4,5,6,7],"format":"d","title":"10¹⁵ molecules / s"}},
"y2":{"field":"hi"},
"strokeWidth":{"value":6},
"fill":{"field":"s","type":"nominal","scale":{"domain":["1","360","650","1000","1600"],"range":["#000000","#d01c1c","#2200ff","#cc00ff","#357a22"]},"legend":{"orient":"none","legendX":58,"legendY":42,"rowPadding":8.5,"title":null,"symbolStrokeWidth":1.2}},
"stroke":{"field":"s","type":"nominal","scale":{"domain":["1","360","650","1000","1600"],"range":["#000000","#d01c1c","#2200ff","#cc00ff","#357a22"]},"legend":{"orient":"none","legendX":58,"legendY":42,"rowPadding":8.5,"title":null,"symbolStrokeWidth":1.2}}
}},
{"transform":[{"filter":"datum.t == 0.0001"}],
"mark":{"type":"point","opacity":0,"size":400},
"encoding":{
"x":{"field":"t","type":"quantitative","axis":{"orient":"bottom","values":[0.0002,0.0003,0.0004,0.0005,0.0006,0.0007,0.0008,0.0009,0.002,0.003,0.004,0.005,0.006,0.007,0.008,0.009,0.02,0.03,0.04,0.05,0.06,0.07,0.08,0.09,0.2,0.3,0.4,0.5,0.6,0.7,0.8,0.9,2,3,4,5],"labels":false,"domain":false,"tickSize":4,"title":null}},
"y":{"field":"lo","type":"quantitative","axis":{"orient":"left","values":[0.5,1.5,2.5,3.5,4.5,5.5,6.5],"labels":false,"domain":false,"tickSize":4,"title":null}},
"shape":{"field":"s","type":"nominal","scale":{"domain":["1","360","650","1000","1600"],"range":["M-2.9,0H2.9M-0.35,-0.35H0.35V0.35H-0.35Z","M-2.9,0H2.9M-0.4,0A0.4,0.4,0,1,0,0.4,0A0.4,0.4,0,1,0,-0.4,0Z","M-2.9,0H2.9M0,-0.45L0.45,0.35H-0.45Z","M-2.9,0H2.9M0,0.45L0.45,-0.35H-0.45Z","M-2.9,0H2.9M-0.35,-0.35H0.35V0.35H-0.35Z"]},"legend":{"orient":"none","legendX":58,"legendY":42,"rowPadding":8.5,"title":null,"symbolStrokeWidth":1.2}}
}}
]
},
{
"width":378,"height":330,
"title":{"text":"(C)\u00a0\u00a0\u00a0\u00a0\u00a0\u00a0\u00a0\u00a0Pre-nitrated Rh/K/CZ (3rd)","anchor":"start","frame":"group","dx":-78,"offset":-46,"baseline":"alphabetic","font":"Lato","fontSize":30,"fontWeight":"bold","color":"#000"},
"data":{"name":"C"},
"resolve":{"axis":{"x":"independent","y":"independent"}},
"layer":[
{"mark":{"type":"area","strokeJoin":"round","interpolate":"monotone","opacity":1,"clip":true},
"encoding":{
"x":{"field":"t","type":"quantitative","scale":{"type":"log","domain":[0.0001,5],"nice":false},"axis":{"orient":"bottom","values":[0.0001,0.001,0.01,0.1,1],"labelExpr":"datum.value < 0.0005 ? '1E-4' : datum.value < 0.005 ? '1E-3' : datum.value < 0.05 ? '0.01' : datum.value < 0.5 ? '0.1' : '1'","title":"Time / s"}},
"y":{"field":"lo","type":"quantitative","stack":null,"scale":{"domain":[0,7],"nice":false,"zero":false},"axis":{"orient":"left","values":[0,1,2,3,4,5,6,7],"format":"d","title":"10¹⁵ molecules / s"}},
"y2":{"field":"hi"},
"strokeWidth":{"value":6},
"fill":{"field":"s","type":"nominal","scale":{"domain":["1","360","650","1000","1600"],"range":["#000000","#d01c1c","#2200ff","#cc00ff","#357a22"]},"legend":{"orient":"none","legendX":57,"legendY":42,"rowPadding":8.75,"title":null,"symbolStrokeWidth":1.2}},
"stroke":{"field":"s","type":"nominal","scale":{"domain":["1","360","650","1000","1600"],"range":["#000000","#d01c1c","#2200ff","#cc00ff","#357a22"]},"legend":{"orient":"none","legendX":57,"legendY":42,"rowPadding":8.75,"title":null,"symbolStrokeWidth":1.2}}
}},
{"transform":[{"filter":"datum.t == 0.0001"}],
"mark":{"type":"point","opacity":0,"size":400},
"encoding":{
"x":{"field":"t","type":"quantitative","axis":{"orient":"bottom","values":[0.0002,0.0003,0.0004,0.0005,0.0006,0.0007,0.0008,0.0009,0.002,0.003,0.004,0.005,0.006,0.007,0.008,0.009,0.02,0.03,0.04,0.05,0.06,0.07,0.08,0.09,0.2,0.3,0.4,0.5,0.6,0.7,0.8,0.9,2,3,4,5],"labels":false,"domain":false,"tickSize":4,"title":null}},
"y":{"field":"lo","type":"quantitative","axis":{"orient":"left","values":[0.5,1.5,2.5,3.5,4.5,5.5,6.5],"labels":false,"domain":false,"tickSize":4,"title":null}},
"shape":{"field":"s","type":"nominal","scale":{"domain":["1","360","650","1000","1600"],"range":["M-2.9,0H2.9M-0.35,-0.35H0.35V0.35H-0.35Z","M-2.9,0H2.9M-0.4,0A0.4,0.4,0,1,0,0.4,0A0.4,0.4,0,1,0,-0.4,0Z","M-2.9,0H2.9M0,-0.45L0.45,0.35H-0.45Z","M-2.9,0H2.9M0,0.45L0.45,-0.35H-0.45Z","M-2.9,0H2.9M-0.35,-0.35H0.35V0.35H-0.35Z"]},"legend":{"orient":"none","legendX":57,"legendY":42,"rowPadding":8.75,"title":null,"symbolStrokeWidth":1.2}}
}}
]
},
{
"width":378,"height":330,
"title":{"text":"(D)\u00a0\u00a0\u00a0\u00a0\u00a0\u00a0\u00a0\u00a0\u00a0\u00a0Used Rh/CZ","anchor":"start","frame":"group","dx":-87,"offset":-46,"baseline":"alphabetic","font":"Lato","fontSize":30,"fontWeight":"bold","color":"#000"},
"data":{"name":"D"},
"resolve":{"axis":{"x":"independent","y":"independent"}},
"layer":[
{"mark":{"type":"area","strokeJoin":"round","interpolate":"monotone","opacity":1,"clip":true},
"encoding":{
"x":{"field":"t","type":"quantitative","scale":{"type":"log","domain":[0.0001,5],"nice":false},"axis":{"orient":"bottom","values":[0.0001,0.001,0.01,0.1,1],"labelExpr":"datum.value < 0.0005 ? '1E-4' : datum.value < 0.005 ? '1E-3' : datum.value < 0.05 ? '0.01' : datum.value < 0.5 ? '0.1' : '1'","title":"Time / s"}},
"y":{"field":"lo","type":"quantitative","stack":null,"scale":{"domain":[0,7],"nice":false,"zero":false},"axis":{"orient":"left","values":[0,1,2,3,4,5,6,7],"format":"d","title":"10¹⁵ molecules / s"}},
"y2":{"field":"hi"},
"strokeWidth":{"value":7},
"fill":{"field":"s","type":"nominal","scale":{"domain":["10th","40th","90th"],"range":["#d01c1c","#2200ff","#cc00ff"]},"legend":{"orient":"none","legendX":41,"legendY":67,"rowPadding":12.5,"title":null,"symbolStrokeWidth":1.2,"labelExpr":"replace(datum.label,'th','ᵗʰ')"}},
"stroke":{"field":"s","type":"nominal","scale":{"domain":["10th","40th","90th"],"range":["#d01c1c","#2200ff","#cc00ff"]},"legend":{"orient":"none","legendX":41,"legendY":67,"rowPadding":12.5,"title":null,"symbolStrokeWidth":1.2,"labelExpr":"replace(datum.label,'th','ᵗʰ')"}}
}},
{"transform":[{"filter":"datum.t == 0.0001"}],
"mark":{"type":"point","opacity":0,"size":400},
"encoding":{
"x":{"field":"t","type":"quantitative","axis":{"orient":"bottom","values":[0.0002,0.0003,0.0004,0.0005,0.0006,0.0007,0.0008,0.0009,0.002,0.003,0.004,0.005,0.006,0.007,0.008,0.009,0.02,0.03,0.04,0.05,0.06,0.07,0.08,0.09,0.2,0.3,0.4,0.5,0.6,0.7,0.8,0.9,2,3,4,5],"labels":false,"domain":false,"tickSize":4,"title":null}},
"y":{"field":"lo","type":"quantitative","axis":{"orient":"left","values":[0.5,1.5,2.5,3.5,4.5,5.5,6.5],"labels":false,"domain":false,"tickSize":4,"title":null}},
"shape":{"field":"s","type":"nominal","scale":{"domain":["10th","40th","90th"],"range":["M-2.9,0H2.9M-0.4,0A0.4,0.4,0,1,0,0.4,0A0.4,0.4,0,1,0,-0.4,0Z","M-2.9,0H2.9M0,-0.45L0.45,0.35H-0.45Z","M-2.9,0H2.9M0,0.45L0.45,-0.35H-0.45Z"]},"legend":{"orient":"none","legendX":41,"legendY":67,"rowPadding":12.5,"title":null,"symbolStrokeWidth":1.2,"labelExpr":"replace(datum.label,'th','ᵗʰ')"}}
}}
]
}
],
"config":{
"view":{"stroke":null},
"axis":{"grid":false,"domainColor":"#000","domainWidth":1.5,"tickColor":"#000","tickWidth":1.5,"labelColor":"#000","titleColor":"#000","labelFont":"Liberation Sans","titleFont":"Liberation Sans","labelOverlap":false,"labelFlush":false},
"axisX":{"labelFontSize":20,"tickSize":7,"labelPadding":3,"titleFontSize":26,"titleFontWeight":"bold","titleFontStyle":"italic","titleX":199,"titleY":62,"titleBaseline":"alphabetic","titleAlign":"center"},
"axisY":{"labelFontSize":17,"labelFontWeight":"bold","tickSize":7,"labelPadding":3,"titleFontSize":27,"titleFontWeight":"bold","titleFontStyle":"italic","titleX":-41,"titleBaseline":"alphabetic","titleAlign":"center"},
"legend":{"labelFont":"Liberation Sans","labelFontSize":26,"labelColor":"#000","symbolSize":400,"symbolStrokeWidth":1.2,"padding":0,"labelLimit":300,"labelOffset":25,"symbolOffset":0}
}
}
